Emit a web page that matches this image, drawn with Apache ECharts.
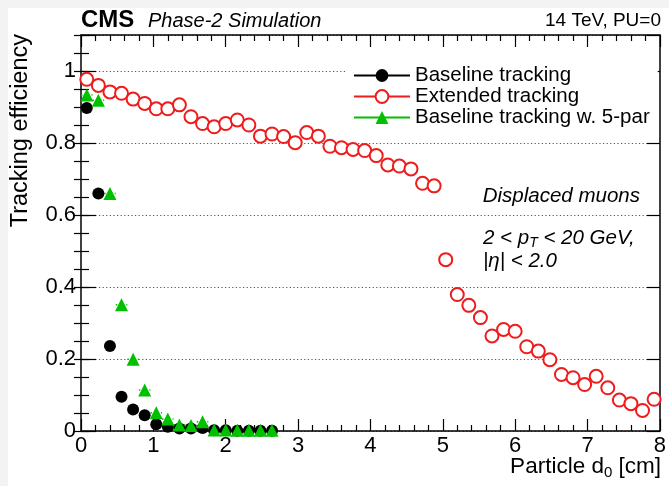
<!DOCTYPE html>
<html>
<head>
<meta charset="utf-8">
<script src="https://cdn.jsdelivr.net/npm/echarts@6/dist/echarts.min.js"></script>
<style>
html,body{margin:0;padding:0;background:#fff;}
#chart{width:669px;height:486px;}
</style>
</head>
<body>
<div id="chart"></div>
<script>
// Bin centres of particle d0 [cm]
var d0Bins = [0.08,0.24,0.40,0.56,0.72,0.88,1.04,1.20,1.36,1.52,1.68,1.84,2.00,2.16,2.32,2.48,2.64,2.80,2.96,3.12,3.28,3.44,3.60,3.76,3.92,4.08,4.24,4.40,4.56,4.72,4.88,5.04,5.20,5.36,5.52,5.68,5.84,6.00,6.16,6.32,6.48,6.64,6.80,6.96,7.12,7.28,7.44,7.60,7.76,7.92];
// Efficiencies
var extendedEff = [0.977,0.960,0.942,0.938,0.922,0.910,0.895,0.895,0.906,0.873,0.854,0.845,0.854,0.864,0.850,0.819,0.825,0.818,0.801,0.829,0.819,0.791,0.787,0.782,0.779,0.765,0.739,0.736,0.728,0.688,0.681,0.476,0.379,0.349,0.315,0.264,0.282,0.277,0.234,0.222,0.198,0.157,0.148,0.129,0.152,0.120,0.086,0.076,0.057,0.088];
var baselineEff = [0.897,0.660,0.236,0.095,0.060,0.044,0.019,0.012,0.007,0.007,0.008,0.002,0.002,0.001,0.001,0.001,0.001];
var baseline5parEff = [0.933,0.919,0.660,0.351,0.199,0.114,0.051,0.033,0.017,0.015,0.026,0.003,0.003,0.002,0.002,0.002,0.002];
var binHalfWidth = 0.08;
var seriesNames = ['Baseline tracking','Extended tracking','Baseline tracking w. 5-par'];
var xTicks = [0,1,2,3,4,5,6,7,8];
var yTickLabels = {'0':'0','0.2':'0.2','0.4':'0.4','0.6':'0.6','0.8':'0.8','1':'1'};

function pairs(vals){ return vals.map(function(v,i){ return [d0Bins[i], v]; }); }

var FONT = '"Liberation Sans", Arial, Helvetica, sans-serif';
var RED = '#ee1c1c', GREEN = '#00c000', BLACK = '#000';

var chart = echarts.init(document.getElementById('chart'), null, {renderer:'canvas'});

var xCommon = {
  type:'value', min:xTicks[0], max:xTicks[xTicks.length-1], interval:1,
  axisLine:{show:true, onZero:false, lineStyle:{color:'#000', width:1.5}},
  axisTick:{show:true, inside:true, length:12, lineStyle:{color:'#000', width:1.2}},
  minorTick:{show:true, splitNumber:5, length:6, lineStyle:{color:'#000', width:1.2}},
  splitLine:{show:false}
};
var option = {
  backgroundColor:'#fff',
  animation:false,
  grid:{left:81, right:8, top:35, bottom:55, containLabel:false},
  xAxis:[
    Object.assign({}, xCommon, {position:'bottom',
      axisLabel:{show:true, margin:4, fontSize:22, color:'#000', fontFamily:FONT}}),
    Object.assign({}, xCommon, {position:'top', axisLabel:{show:false}})
  ],
  yAxis:[
    {type:'value', position:'left', min:0, max:1.1, interval:0.2,
     axisLine:{show:true, onZero:false, lineStyle:{color:'#000', width:1.5}},
     axisTick:{show:true, inside:true, length:15, lineStyle:{color:'#000', width:1.2}},
     axisLabel:{show:true, margin:5, fontSize:22, color:'#000', fontFamily:FONT,
       formatter:function(v){ var k = String(Math.round(v*10)/10); return yTickLabels[k] !== undefined ? yTickLabels[k] : ''; }},
     splitLine:{show:true, lineStyle:{color:'#555', width:1, type:[1.2,2.4]}}},
    {type:'value', position:'left', min:0, max:1.1, interval:0.05,
     axisLine:{show:false}, axisLabel:{show:false}, splitLine:{show:false},
     axisTick:{show:true, inside:true, length:8, lineStyle:{color:'#000', width:1.2}}},
    {type:'value', position:'right', min:0, max:1.1, interval:0.2,
     axisLine:{show:true, onZero:false, lineStyle:{color:'#000', width:1.5}},
     axisLabel:{show:false}, splitLine:{show:false},
     axisTick:{show:true, inside:true, length:13, lineStyle:{color:'#000', width:1.2}}},
    {type:'value', position:'right', min:0, max:1.1, interval:0.05,
     axisLine:{show:false}, axisLabel:{show:false}, splitLine:{show:false},
     axisTick:{show:true, inside:true, length:7, lineStyle:{color:'#000', width:1.2}}}
  ],
  legend:{
    show:true, orient:'vertical', left:347, top:62, selectedMode:false,
    backgroundColor:'#fff', padding:[3,8,3,6], itemGap:0,
    itemWidth:56, itemHeight:16,
    lineStyle:{opacity:1, width:2},
    textStyle:{fontSize:20.5, fontFamily:FONT, color:'#000', lineHeight:21},
    data:seriesNames
  },
  series:[
    {name:seriesNames[0], type:'line', xAxisIndex:0, yAxisIndex:0, data:pairs(baselineEff),
     symbol:'circle', symbolSize:12, showSymbol:true, z:4,
     itemStyle:{color:BLACK}, lineStyle:{color:BLACK, width:2, opacity:0}},
    {name:seriesNames[1], type:'line', xAxisIndex:0, yAxisIndex:0, data:pairs(extendedEff),
     symbol:'emptyCircle', symbolSize:13, showSymbol:true, z:3,
     itemStyle:{color:RED, borderColor:RED, borderWidth:1.5}, lineStyle:{color:RED, width:2, opacity:0}},
    {name:'err5par', type:'custom', xAxisIndex:0, yAxisIndex:0, data:pairs(baseline5parEff), z:4,
     renderItem:function(params, api){
       var x = api.value(0), y = api.value(1);
       var p1 = api.coord([x-binHalfWidth, y]);
       var p2 = api.coord([x+binHalfWidth, y]);
       return {type:'line', shape:{x1:p1[0], y1:p1[1], x2:p2[0], y2:p2[1]},
               style:{stroke:GREEN, lineWidth:1.5, lineDash:[1.5,2]}};
     }},
    {name:seriesNames[2], type:'line', xAxisIndex:0, yAxisIndex:0, data:pairs(baseline5parEff),
     symbol:'triangle', symbolSize:13, showSymbol:true, z:5,
     itemStyle:{color:GREEN}, lineStyle:{color:GREEN, width:2, opacity:0}}
  ],
  graphic:[
    {type:'rect', shape:{x:0, y:0, width:8, height:486}, style:{fill:'#f3f3f3'}, silent:true},
    {type:'rect', shape:{x:0, y:0, width:669, height:8}, style:{fill:'#f3f3f3'}, silent:true},
    {type:'text', x:81, y:20, style:{text:'CMS', fontSize:24, fontWeight:'bold', fontFamily:FONT, fill:'#000', align:'left', verticalAlign:'middle', textAlign:'left', textVerticalAlign:'middle'}},
    {type:'text', x:148, y:21, style:{text:'Phase-2 Simulation', fontSize:20, fontStyle:'italic', fontFamily:FONT, fill:'#000', align:'left', verticalAlign:'middle', textAlign:'left', textVerticalAlign:'middle'}},
    {type:'text', x:661, y:21, style:{text:'14 TeV, PU=0', fontSize:19, fontFamily:FONT, fill:'#000', align:'right', verticalAlign:'middle', textAlign:'right', textVerticalAlign:'middle'}},
    {type:'text', x:21, y:34, rotation:Math.PI/2, style:{text:'Tracking efficiency', fontSize:23.5, fontFamily:FONT, fill:'#000', align:'right', verticalAlign:'middle', textAlign:'right', textVerticalAlign:'middle'}},
    {type:'text', x:661, y:467, style:{text:'{a|Particle d}{b|0}{a| [cm]}', align:'right', verticalAlign:'middle', textAlign:'right', textVerticalAlign:'middle',
      rich:{a:{fontSize:22.5, fontFamily:FONT, fill:'#000', color:'#000'}, b:{fontSize:15, fontFamily:FONT, fill:'#000', color:'#000', padding:[12,0,0,0]}}}},
    {type:'text', x:640, y:196, style:{text:'Displaced muons', fontSize:20.5, fontStyle:'italic', fontFamily:FONT, fill:'#000', align:'right', verticalAlign:'middle', textAlign:'right', textVerticalAlign:'middle'}},
    {type:'text', x:483, y:238, style:{text:'{a|2 < p}{b|T}{a| < 20 GeV,}', align:'left', verticalAlign:'middle', textAlign:'left', textVerticalAlign:'middle',
      rich:{a:{fontSize:20.5, fontStyle:'italic', fontFamily:FONT, fill:'#000', color:'#000'}, b:{fontSize:14, fontStyle:'italic', fontFamily:FONT, fill:'#000', color:'#000', padding:[10,0,0,0]}}}},
    {type:'text', x:483, y:261, style:{text:'|\u03b7| < 2.0', fontSize:20.5, fontStyle:'italic', fontFamily:FONT, fill:'#000', align:'left', verticalAlign:'middle', textAlign:'left', textVerticalAlign:'middle'}}
  ]
};
chart.setOption(option);
</script>
</body>
</html>
